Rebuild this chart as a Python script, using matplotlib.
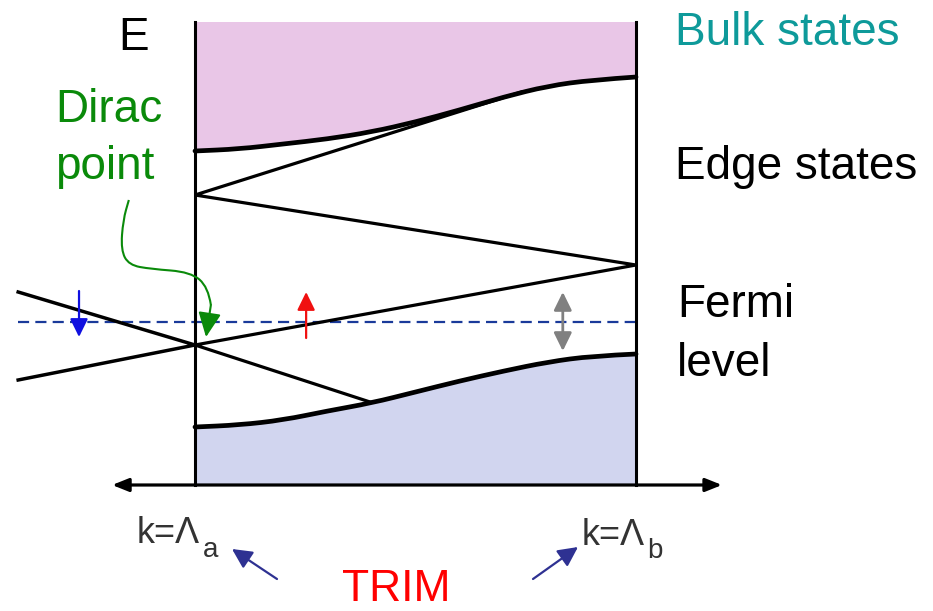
import matplotlib
matplotlib.use("Agg")
import matplotlib.pyplot as plt
from matplotlib.transforms import Affine2D
from matplotlib.path import Path
from matplotlib.patches import PathPatch

plt.rcParams['font.family'] = ['Liberation Sans', 'DejaVu Sans']

# ---------------- data (k: 0 = Λa, 1 = Λb ; E: Dirac point = 0) ----------------
upper_bulk_k = [0.0, 0.1, 0.2, 0.3, 0.4, 0.5, 0.6, 0.7, 0.8, 0.9, 1.0]
upper_bulk_E = [1.94, 1.96, 2.01, 2.06, 2.13, 2.23, 2.35, 2.48, 2.59, 2.65, 2.68]
lower_bulk_k = [0.0, 0.1, 0.2, 0.3, 0.4, 0.5, 0.6, 0.7, 0.8, 0.9, 1.0]
lower_bulk_E = [-0.82, -0.80, -0.75, -0.66, -0.58, -0.47, -0.36, -0.26, -0.17, -0.11, -0.09]
band_top_E = 3.23
band_bottom_E = -1.40

edge_k = [0.74, 0.0, 1.0, 0.0, 0.397]
edge_E = [2.53, 1.50, 0.80, 0.0, -0.57]

dirac_out_k = [-0.401, 0.0, -0.401]
dirac_out_E = [0.53, 0.0, -0.35]

fermi_E = 0.23
fermi_k = [-0.401, 1.0]

axis_k = [-0.188, 1.195]
trim_k = [0.0, 1.0]

spin_down_k, spin_down_E = -0.263, [0.54, 0.08]
spin_up_k, spin_up_E = 0.252, [0.07, 0.53]
gap_k, gap_E = 0.834, [0.53, -0.06]

green_k = [-0.150, -0.163, -0.168, -0.150, -0.100, -0.010, 0.030, 0.036]
green_E = [1.45, 1.25, 0.95, 0.80, 0.76, 0.73, 0.58, 0.40]
green_tip = (0.025, 0.08)

# ---------------- figure ----------------
W, H = 933, 611
fig = plt.figure(figsize=(W / 100, H / 100), dpi=100)
ax = fig.add_axes([0, 0, 1, 1])
ax.set_xlim(-195 / 441, (W - 195) / 441)
ax.set_ylim((345 - H) / 100, 345 / 100)
ax.axis('off')

pix = Affine2D().scale(1 / W, -1 / H).translate(0, 1) + fig.transFigure


def smooth_verts(xs, ys):
    """Quadratic B-spline style path through the given points (smooth rendering)."""
    pts = list(zip(xs, ys))
    verts = [pts[0]]
    codes = [Path.MOVETO]
    if len(pts) == 2:
        verts.append(pts[1]); codes.append(Path.LINETO)
        return verts, codes
    verts.append(((pts[0][0] + pts[1][0]) / 2, (pts[0][1] + pts[1][1]) / 2))
    codes.append(Path.LINETO)
    for i in range(1, len(pts) - 1):
        ctrl = pts[i]
        if i < len(pts) - 2:
            end = ((pts[i][0] + pts[i + 1][0]) / 2, (pts[i][1] + pts[i + 1][1]) / 2)
        else:
            end = pts[i + 1]
        verts += [ctrl, end]
        codes += [Path.CURVE3, Path.CURVE3]
    return verts, codes


def smooth_line(xs, ys, **kw):
    v, c = smooth_verts(xs, ys)
    ax.add_patch(PathPatch(Path(v, c), fill=False, **kw))


def smooth_fill(xs, ys, yedge, **kw):
    v, c = smooth_verts(xs, ys)
    v = v + [(xs[-1], yedge), (xs[0], yedge), v[0]]
    c = c + [Path.LINETO, Path.LINETO, Path.CLOSEPOLY]
    ax.add_patch(PathPatch(Path(v, c), **kw))


# bulk regions
smooth_fill(upper_bulk_k, upper_bulk_E, band_top_E, facecolor='#e9c6e7', lw=0, zorder=1)
smooth_fill(lower_bulk_k, lower_bulk_E, band_bottom_E, facecolor='#d1d5ef', lw=0, zorder=1)
smooth_line(upper_bulk_k, upper_bulk_E, edgecolor='black', lw=3.4, capstyle='round', zorder=3)
smooth_line(lower_bulk_k, lower_bulk_E, edgecolor='black', lw=3.4, capstyle='round', zorder=3)

# TRIM vertical lines
for k in trim_k:
    ax.plot([k, k], [band_bottom_E, band_top_E], color='black', lw=2.2, zorder=4)

# edge states
ax.plot(edge_k, edge_E, color='black', lw=2.3, solid_joinstyle='miter', zorder=3)
ax.plot(dirac_out_k, dirac_out_E, color='black', lw=2.5, zorder=3)

# Fermi level
ax.plot(fermi_k, [fermi_E, fermi_E], color='#1a3a9a', lw=1.6, dashes=(5, 2.8), zorder=2)

# horizontal k axis
ax.annotate('', xy=(axis_k[1], band_bottom_E), xytext=(axis_k[0], band_bottom_E),
            arrowprops=dict(arrowstyle='<|-|>,head_length=0.55,head_width=0.22',
                            mutation_scale=18, color='black', lw=2.3,
                            shrinkA=0, shrinkB=0), zorder=5)


def arrow(x0, y0, x1, y1, color, lw=1.6, style='-|>', hl=0.55, hw=0.27, ms=20):
    ax.annotate('', xy=(x1, y1), xytext=(x0, y0),
                arrowprops=dict(arrowstyle=f'{style},head_length={hl},head_width={hw}',
                                mutation_scale=ms, color=color, lw=lw,
                                shrinkA=0, shrinkB=0), zorder=6)


arrow(spin_down_k, spin_down_E[0], spin_down_k, spin_down_E[1], '#1010e0')
arrow(spin_up_k, spin_up_E[0], spin_up_k, spin_up_E[1], '#f01010')
arrow(gap_k, gap_E[0], gap_k, gap_E[1], '#808080', lw=2.0, style='<|-|>')

# green curved arrow
smooth_line(green_k, green_E, edgecolor='#0a8a0a', lw=1.5, zorder=6)
arrow(green_k[-1], green_E[-1], green_tip[0], green_tip[1], '#0a8a0a', lw=1.5,
      hl=0.75, hw=0.35)

# ---------------- texts ----------------
fs = 33
ax.text(118, 50, 'E', transform=pix, fontsize=fs, color='black', ha='left', va='baseline')
ax.text(675, 45, 'Bulk states', transform=pix, fontsize=fs, color='#0e9a9a', ha='left', va='baseline')
ax.text(675, 179, 'Edge states', transform=pix, fontsize=fs, color='black', ha='left', va='baseline')
ax.text(677, 317, 'Fermi', transform=pix, fontsize=fs, color='black', ha='left', va='baseline')
ax.text(677, 376, 'level', transform=pix, fontsize=fs, color='black', ha='left', va='baseline')
ax.text(55, 122, 'Dirac', transform=pix, fontsize=fs, color='#0a8a0a', ha='left', va='baseline')
ax.text(55, 179, 'point', transform=pix, fontsize=fs, color='#0a8a0a', ha='left', va='baseline')
ax.text(342, 601, 'TRIM', transform=pix, fontsize=32, color='#ff0000', ha='left', va='baseline')

kcol = '#333333'
ax.text(137, 543, 'k=Λ', transform=pix, fontsize=26, color=kcol, ha='left', va='baseline')
ax.text(203, 557, 'a', transform=pix, fontsize=20, color=kcol, ha='left', va='baseline')
ax.text(582, 545, 'k=Λ', transform=pix, fontsize=26, color=kcol, ha='left', va='baseline')
ax.text(647, 558, 'b', transform=pix, fontsize=20, color=kcol, ha='left', va='baseline')

# navy arrows pointing to TRIM labels (pixel coordinates of annotation)
navy = '#2e3192'
for (x0, y0, x1, y1) in [(277, 579, 232, 549), (533, 579, 578, 547)]:
    ax.annotate('', xy=(x1, y1), xytext=(x0, y0), xycoords=pix, textcoords=pix,
                arrowprops=dict(arrowstyle='-|>,head_length=0.6,head_width=0.3',
                                mutation_scale=20, color=navy, lw=1.6,
                                shrinkA=0, shrinkB=0))

fig.savefig('out.png', dpi=100)
